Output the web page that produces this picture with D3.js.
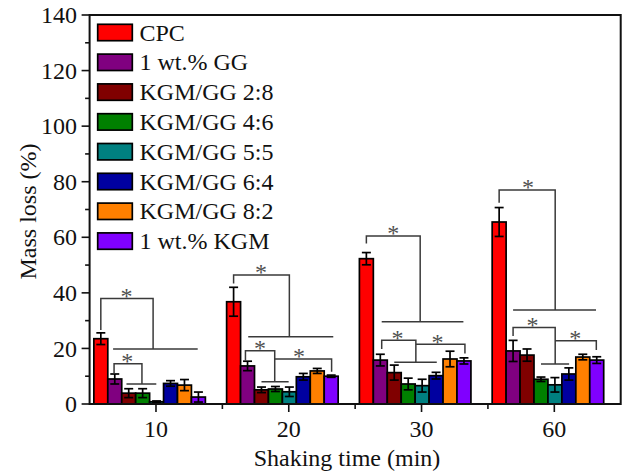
<!DOCTYPE html>
<html>
<head>
<meta charset="utf-8">
<script src="https://cdn.jsdelivr.net/npm/d3@7/dist/d3.min.js"></script>
<style>
  html, body { margin: 0; padding: 0; background: #fff; }
  svg { display: block; }
  text { font-family: "Liberation Serif", "Times New Roman", serif; fill: #111; }
</style>
</head>
<body>
<svg id="chart" width="622" height="471"></svg>
<script>
// Shaking time groups (min)
const categories = ["10", "20", "30", "60"];

// Sample series
const seriesNames = ["CPC", "1 wt.% GG", "KGM/GG 2:8", "KGM/GG 4:6",
                     "KGM/GG 5:5", "KGM/GG 6:4", "KGM/GG 8:2", "1 wt.% KGM"];
const seriesColors = ["#FF0000", "#800080", "#800000", "#008000",
                      "#008080", "#0000A0", "#FF8000", "#8000FF"];

// Mass loss (%) per series, one value per shaking time
const cpc    = [23.5, 36.8, 52.3, 65.5];
const gg     = [9.0, 13.7, 15.8, 19.1];
const kg28   = [3.9, 5.1, 11.3, 17.6];
const kg46   = [3.9, 5.4, 7.2, 8.9];
const kg55   = [0.8, 4.4, 6.6, 6.9];
const kg64   = [7.4, 9.8, 10.2, 10.8];
const kg82   = [6.8, 11.9, 16.2, 16.9];
const kgm    = [2.5, 10.0, 15.5, 15.8];

// Standard deviations
const cpcErr  = [2.1, 5.2, 2.2, 5.2];
const ggErr   = [1.8, 1.7, 2.1, 3.8];
const kg28Err = [1.6, 1.0, 2.7, 2.2];
const kg46Err = [1.6, 0.9, 2.1, 0.8];
const kg55Err = [0.3, 1.7, 2.3, 2.6];
const kg64Err = [1.0, 1.2, 1.2, 2.2];
const kg82Err = [2.0, 0.9, 2.8, 1.0];
const kgmErr  = [1.8, 0.4, 1.1, 1.2];

const seriesValues = [cpc, gg, kg28, kg46, kg55, kg64, kg82, kgm];
const seriesErrors = [cpcErr, ggErr, kg28Err, kg46Err, kg55Err, kg64Err, kg82Err, kgmErr];

// Y axis ticks
const yTicks = [0, 20, 40, 60, 80, 100, 120, 140];
const yMinorTicks = [10, 30, 50, 70, 90, 110, 130];

// Significance brackets: bar indices within a group (fractional allowed) and mass-loss levels
const brackets = [
  { g: "10", x0: 0,    x1: 3.75, top: 38.0, foot0: 26.6, foot1: 19.8, span: [0.88, 6.95], star: 1.84 },
  { g: "10", x0: 0.95, x1: 2.95, top: 14.5, foot0: 11.0, foot1: 7.2,  span: [1.84, 3.98], star: 1.9 },
  { g: "20", x0: 0,    x1: 4.0,  top: 46.4, foot0: 43.4, foot1: 24.2, span: [1.05, 7.15], star: 1.96 },
  { g: "20", x0: 0.85, x1: 2.95, top: 19.2, foot0: 15.6, foot1: 8.0,  span: [2.0, 3.95],  star: 1.9 },
  { g: "20", x0: 2.95, x1: 7.03, top: 16.2, foot0: null, foot1: 11.6, span: null,        star: 4.7 },
  { g: "30", x0: 0,    x1: 3.86, top: 60.5, foot0: 57.8, foot1: 29.6, span: [1.1, 6.96],  star: 1.93 },
  { g: "30", x0: 1.1,  x1: 3.55, top: 22.9, foot0: 19.8, foot1: 15.0, span: [2.0, 5.05],  star: 2.24 },
  { g: "30", x0: 3.55, x1: 7.07, top: 21.5, foot0: null, foot1: 18.2, span: null,        star: 5.1 },
  { g: "60", x0: 0,    x1: 4.02, top: 77.0, foot0: 72.4, foot1: 33.8, span: [1.0, 6.95],  star: 2.07 },
  { g: "60", x0: 1.0,  x1: 4.02, top: 27.5, foot0: 24.5, foot1: 14.4, span: [3.0, 5.02],  star: 2.4 },
  { g: "60", x0: 4.02, x1: 6.97, top: 22.8, foot0: null, foot1: 19.4, span: null,        star: 5.45 }
];

// ---- layout ----
const svg = d3.select("#chart");
const plot = { left: 89.6, right: 620.7, top: 15, bottom: 404 };

const x = d3.scaleBand().domain(categories).range([plot.left, plot.right]).padding(0);
const bw = x.bandwidth();
const xInner = d3.scaleBand().domain(d3.range(seriesNames.length))
  .range([bw * 0.032, bw * 0.872]).padding(0);
const barW = xInner.bandwidth();
const y = d3.scaleLinear().domain([0, 140]).range([plot.bottom, plot.top]);

// centre of a (possibly fractional) bar position inside a group
const barCenter = (g, idx) => x(g) + xInner(0) + barW * (idx + 0.5);

// ---- bars ----
const rows = [];
seriesNames.forEach((name, s) => {
  categories.forEach((c, ci) => {
    rows.push({ s, c, v: seriesValues[s][ci], e: seriesErrors[s][ci] });
  });
});

svg.append("g").selectAll("rect").data(rows).join("rect")
  .attr("x", d => x(d.c) + xInner(d.s))
  .attr("y", d => y(d.v))
  .attr("width", barW)
  .attr("height", d => y(0) - y(d.v))
  .attr("fill", d => seriesColors[d.s])
  .attr("stroke", "#000")
  .attr("stroke-width", 1.7);

// ---- error bars ----
const capHalf = 4.5;
const eg = svg.append("g").attr("stroke", "#000").attr("stroke-width", 1.7).attr("fill", "none");
rows.forEach(d => {
  const cx = x(d.c) + xInner(d.s) + barW / 2;
  const yt = y(d.v + d.e), yb = y(Math.max(0, d.v - d.e));
  eg.append("line").attr("x1", cx).attr("x2", cx).attr("y1", yt).attr("y2", yb);
  eg.append("line").attr("x1", cx - capHalf).attr("x2", cx + capHalf).attr("y1", yt).attr("y2", yt);
  eg.append("line").attr("x1", cx - capHalf).attr("x2", cx + capHalf).attr("y1", yb).attr("y2", yb);
});

// ---- significance brackets ----
const bg = svg.append("g");
brackets.forEach(b => {
  const xa = barCenter(b.g, b.x0), xb = barCenter(b.g, b.x1);
  const p = d3.path();
  if (b.foot0 !== null) { p.moveTo(xa, y(b.foot0)); p.lineTo(xa, y(b.top)); }
  else { p.moveTo(xa, y(b.top)); }
  p.lineTo(xb, y(b.top));
  p.lineTo(xb, y(b.foot1));
  if (b.span) {
    p.moveTo(barCenter(b.g, b.span[0]), y(b.foot1));
    p.lineTo(barCenter(b.g, b.span[1]), y(b.foot1));
  }
  bg.append("path").attr("d", p.toString())
    .attr("fill", "none").attr("stroke", "#3a3a3a").attr("stroke-width", 1.5);
  // asterisk sits about 6px above the bracket top
  bg.append("text")
    .attr("x", barCenter(b.g, b.star))
    .attr("y", y(b.top) - 6 + 11.4)
    .attr("text-anchor", "middle")
    .style("font-size", "24px")
    .style("fill", "#505050")
    .text("*");
});

// ---- frame and axes ----
const ax = svg.append("g").attr("stroke", "#111").attr("fill", "none");
ax.append("rect")
  .attr("x", plot.left).attr("y", plot.top)
  .attr("width", plot.right - plot.left).attr("height", plot.bottom - plot.top)
  .attr("stroke-width", 2);

// y ticks
yTicks.forEach(t => {
  ax.append("line").attr("x1", plot.left - 8).attr("x2", plot.left)
    .attr("y1", y(t)).attr("y2", y(t)).attr("stroke-width", 1.6);
});
yMinorTicks.forEach(t => {
  ax.append("line").attr("x1", plot.left - 4.5).attr("x2", plot.left)
    .attr("y1", y(t)).attr("y2", y(t)).attr("stroke-width", 1.6);
});
svg.append("g").selectAll("text").data(yTicks).join("text")
  .attr("x", 77).attr("y", d => y(d))
  .attr("dy", "0.34em")
  .attr("text-anchor", "end")
  .style("font-size", "24px")
  .text(d => d);

// x ticks
categories.forEach(c => {
  const cx = x(c) + bw / 2;
  ax.append("line").attr("x1", cx).attr("x2", cx)
    .attr("y1", plot.bottom).attr("y2", plot.bottom + 8).attr("stroke-width", 1.6);
});
categories.slice(1).forEach(c => {
  ax.append("line").attr("x1", x(c)).attr("x2", x(c))
    .attr("y1", plot.bottom).attr("y2", plot.bottom + 5).attr("stroke-width", 1.6);
});
svg.append("g").selectAll("text").data(categories).join("text")
  .attr("x", d => x(d) + bw / 2).attr("y", 436.5)
  .attr("text-anchor", "middle")
  .style("font-size", "24px")
  .text(d => d);

// axis titles
svg.append("text")
  .attr("x", 347).attr("y", 466)
  .attr("text-anchor", "middle")
  .style("font-size", "24px")
  .text("Shaking time (min)");
svg.append("text")
  .attr("transform", `translate(35.5, ${(plot.top + plot.bottom) / 2 + 2}) rotate(-90)`)
  .attr("text-anchor", "middle")
  .style("font-size", "24px")
  .text("Mass loss (%)");

// ---- legend ----
const lg = svg.append("g");
seriesNames.forEach((name, i) => {
  const cy = 32.5 + i * 29.8;
  lg.append("rect")
    .attr("x", 97.7).attr("y", cy - 8.2)
    .attr("width", 34.6).attr("height", 16.4)
    .attr("fill", seriesColors[i])
    .attr("stroke", "#000").attr("stroke-width", 1.7);
  lg.append("text")
    .attr("x", 139.5).attr("y", cy + 8)
    .style("font-size", "24px")
    .text(name);
});
</script>
</body>
</html>
